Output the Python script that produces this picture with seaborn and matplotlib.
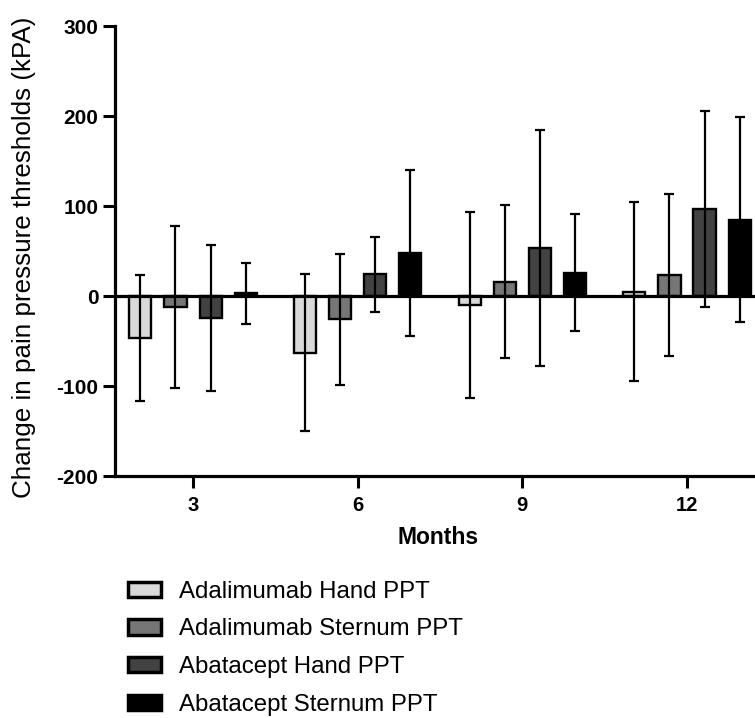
import matplotlib
matplotlib.use("Agg")
import matplotlib.pyplot as plt
import seaborn as sns
import pandas as pd
import numpy as np

months = ["3", "6", "9", "12"]
groups = ["Adalimumab Hand PPT", "Adalimumab Sternum PPT",
          "Abatacept Hand PPT", "Abatacept Sternum PPT"]
ada_hand_mean = [-47, -63, -10, 5]
ada_hand_sd = [70, 87, 103, 99]
ada_sternum_mean = [-12, -26, 16, 23]
ada_sternum_sd = [90, 73, 85, 90]
aba_hand_mean = [-24, 24, 53, 97]
aba_hand_sd = [81, 42, 131, 109]
aba_sternum_mean = [3, 48, 26, 85]
aba_sternum_sd = [34, 92, 65, 114]
colors = ["#d9d9d9", "#767676", "#424242", "#000000"]

means = [ada_hand_mean, ada_sternum_mean, aba_hand_mean, aba_sternum_mean]
sds = [ada_hand_sd, ada_sternum_sd, aba_hand_sd, aba_sternum_sd]

rows = []
for g, m in zip(groups, means):
    for mo, v in zip(months, m):
        rows.append({"Months": mo, "Change": v, "Group": g})
df = pd.DataFrame(rows)

sns.set_style("ticks")
plt.rcParams['font.family'] = ['Liberation Sans', 'DejaVu Sans']
plt.rcParams['axes.unicode_minus'] = False

fig = plt.figure(figsize=(7.55, 7.18), dpi=100)
ax = fig.add_axes([115/755, (718-476)/718, 640/755, 450/718])

sns.barplot(data=df, x="Months", y="Change", hue="Group", order=months,
            hue_order=groups, palette=colors, width=0.853, gap=0.37,
            edgecolor="black", linewidth=1.7, errorbar=None, ax=ax,
            saturation=1)

for cont, sd in zip(ax.containers, sds):
    xs = [p.get_x() + p.get_width()/2 for p in cont]
    ys = [p.get_height() for p in cont]
    ax.errorbar(xs, ys, yerr=sd, fmt="none", ecolor="black", elinewidth=1.6,
                capsize=3.4, capthick=1.6, zorder=5)

ax.axhline(0, color="black", lw=2.3, zorder=4)
ax.set_xlim(-0.474, 3.413)
ax.set_ylim(-200, 300)
ax.set_yticks([-200, -100, 0, 100, 200, 300])
sns.despine(ax=ax)
for s in ["left", "bottom"]:
    ax.spines[s].set_linewidth(2.3)
    ax.spines[s].set_color("black")
ax.tick_params(axis="both", width=2.2, length=8.5, color="black",
               labelsize=15, labelcolor="black")
ax.tick_params(axis="y", pad=3.5)
ax.tick_params(axis="x", pad=6, labelsize=14.5)
for lab in ax.get_xticklabels() + ax.get_yticklabels():
    lab.set_fontweight("bold")

ax.set_xlabel("Months", fontsize=16.5, fontweight="bold", color="black")
ax.xaxis.set_label_coords(0.505, -0.111)
ax.set_ylabel("Change in pain pressure thresholds (kPA)", fontsize=18.7,
              color="black")
ax.yaxis.set_label_coords(-0.123, 0.487)

handles, labels = ax.get_legend_handles_labels()
ax.get_legend().remove()
leg = fig.legend(handles, labels, loc="upper left",
                 bbox_to_anchor=(118/755, 1 - 571/718), frameon=False,
                 fontsize=17.3, handlelength=1.4, handleheight=0.6,
                 handletextpad=0.72, labelspacing=0.66, borderaxespad=0,
                 labelcolor="black")
for h in leg.legend_handles:
    h.set_linewidth(2.5)
    h.set_edgecolor("black")

fig.savefig("out.png", dpi=100)
